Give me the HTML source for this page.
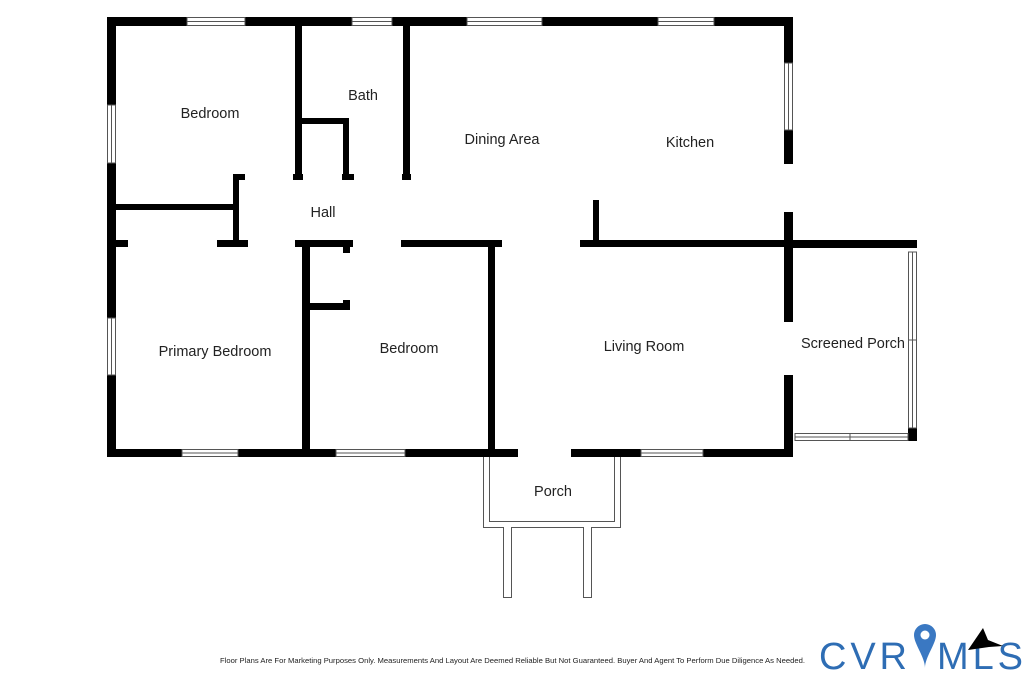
<!DOCTYPE html><html><head><style>
body{margin:0;background:#fff;width:1024px;height:683px;overflow:hidden}
svg text{font-family:"Liberation Sans",sans-serif;font-size:14.5px;fill:#222}
</style></head><body>
<svg width="1024" height="683" viewBox="0 0 1024 683" xmlns="http://www.w3.org/2000/svg">
<g fill="#000">
<rect x="107" y="17" width="686" height="9"/>
<rect x="107" y="17" width="9" height="440"/>
<rect x="107" y="449" width="686" height="8"/>
<rect x="784" y="17" width="9" height="147"/>
<rect x="784" y="212" width="9" height="110"/>
<rect x="784" y="375" width="9" height="82"/>
<rect x="295" y="26" width="7" height="154"/>
<rect x="302" y="118" width="47" height="6"/>
<rect x="343" y="118" width="6" height="62"/>
<rect x="403" y="26" width="7" height="154"/>
<rect x="233" y="174" width="12" height="6"/>
<rect x="293" y="174" width="10" height="6"/>
<rect x="342" y="174" width="12" height="6"/>
<rect x="402" y="174" width="9" height="6"/>
<rect x="233" y="174" width="6" height="70"/>
<rect x="116" y="204" width="123" height="6"/>
<rect x="116" y="240" width="12" height="7"/>
<rect x="217" y="240" width="31" height="7"/>
<rect x="295" y="240" width="58" height="7"/>
<rect x="401" y="240" width="101" height="7"/>
<rect x="580" y="240" width="213" height="7"/>
<rect x="593" y="200" width="6" height="44"/>
<rect x="302" y="244" width="8" height="205"/>
<rect x="310" y="303" width="40" height="7"/>
<rect x="343" y="244" width="7" height="9"/>
<rect x="343" y="300" width="7" height="10"/>
<rect x="488" y="244" width="7" height="205"/>
<rect x="793" y="240" width="124" height="8"/>
<rect x="908" y="428" width="9" height="13"/>
</g>
<rect x="518" y="448" width="53" height="10" fill="#fff"/>
<g fill="#fff" stroke="#555" stroke-width="1">
<rect x="187" y="17.5" width="58" height="8"/><line x1="187" y1="21.5" x2="245" y2="21.5"/>
<rect x="352" y="17.5" width="40" height="8"/><line x1="352" y1="21.5" x2="392" y2="21.5"/>
<rect x="467" y="17.5" width="75" height="8"/><line x1="467" y1="21.5" x2="542" y2="21.5"/>
<rect x="658" y="17.5" width="56" height="8"/><line x1="658" y1="21.5" x2="714" y2="21.5"/>
<rect x="107.5" y="105" width="8" height="58"/><line x1="111.5" y1="105" x2="111.5" y2="163"/>
<rect x="107.5" y="318" width="8" height="57"/><line x1="111.5" y1="318" x2="111.5" y2="375"/>
<rect x="784.5" y="63" width="8" height="67"/><line x1="788.5" y1="63" x2="788.5" y2="130"/>
<rect x="182" y="449.5" width="56" height="7"/><line x1="182" y1="453" x2="238" y2="453"/>
<rect x="336" y="449.5" width="69" height="7"/><line x1="336" y1="453" x2="405" y2="453"/>
<rect x="641" y="449.5" width="62" height="7"/><line x1="641" y1="453" x2="703" y2="453"/>
<rect x="908.5" y="252" width="8" height="176"/><line x1="912.5" y1="252" x2="912.5" y2="428"/><line x1="908" y1="340" x2="917" y2="340"/>
<rect x="795" y="433.5" width="113" height="7"/><line x1="795" y1="437" x2="908" y2="437"/><line x1="850" y1="433" x2="850" y2="441"/>
</g>
<g fill="none" stroke="#555" stroke-width="1">
<path d="M483.5 457 V527.5 H503.5 V597.5 H511.5 V527.5 H583.5 V597.5 H591.5 V527.5 H620.5 V457"/>
<path d="M489.5 457 V521.5 H614.5 V457"/>
</g>
<g text-anchor="middle">
<text x="210" y="118">Bedroom</text>
<text x="363" y="100">Bath</text>
<text x="502" y="144">Dining Area</text>
<text x="690" y="147">Kitchen</text>
<text x="323" y="217">Hall</text>
<text x="215" y="356">Primary Bedroom</text>
<text x="409" y="353">Bedroom</text>
<text x="644" y="351">Living Room</text>
<text x="853" y="348">Screened Porch</text>
<text x="553" y="496">Porch</text>
</g>
<text x="220" y="663" textLength="585" lengthAdjust="spacingAndGlyphs" style="font-size:7.5px">Floor Plans Are For Marketing Purposes Only. Measurements And Layout Are Deemed Reliable But Not Guaranteed. Buyer And Agent To Perform Due Diligence As Needed.</text>
<text x="819" y="669" textLength="88" lengthAdjust="spacing" style="font-size:38px;fill:#2e6db4">CVR</text>
<path d="M914 635 a11 11 0 0 1 22 0 c0 9 -11 22 -11 33 c0 -11 -11 -24 -11 -33z" fill="#3a78c2"/>
<circle cx="925" cy="635" r="4.5" fill="#fff"/>
<text x="937" y="669" textLength="86" lengthAdjust="spacing" style="font-size:38px;fill:#2e6db4">MLS</text>
<path d="M968 650 L983 628 L988 640 L1003 646 L989 647 Z" fill="#000"/>
</svg>
</body></html>
